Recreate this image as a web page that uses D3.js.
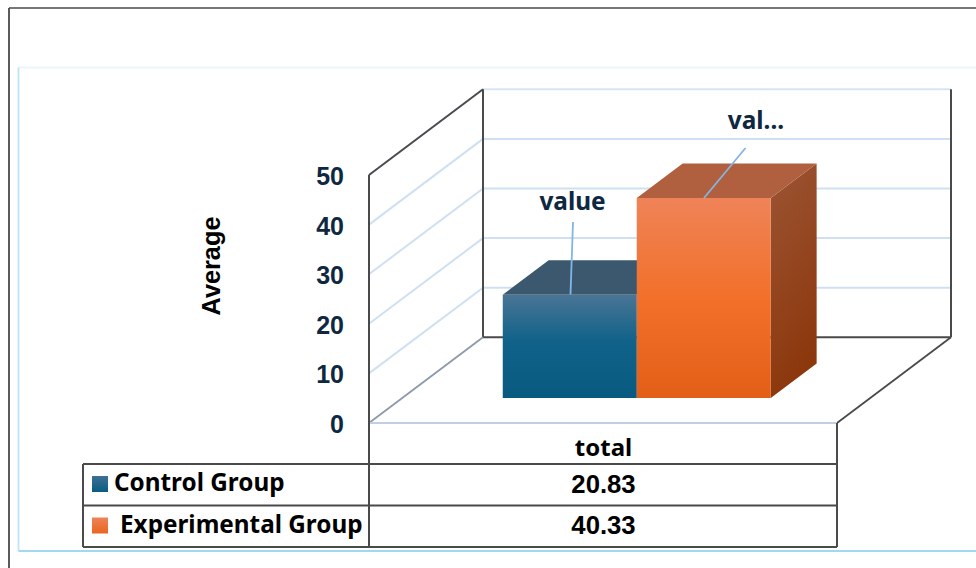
<!DOCTYPE html>
<html><head><meta charset="utf-8">
<script src="https://cdnjs.cloudflare.com/ajax/libs/d3/7.8.5/d3.min.js"></script>
<style>html,body{margin:0;padding:0;background:#fff}svg{display:block}</style>
</head><body><svg id="c" width="976" height="568"></svg>
<script>
const categories = ["Control Group", "Experimental Group"];
const values = [20.83, 40.33];
const columnLabel = "total";
const yTicks = [0, 10, 20, 30, 40, 50];
const valueTexts = ["value", "val..."];
const yTitle = "Average";

const svg = d3.select("#c");
const navy = "#0e2841", dark = "#4a4a4a", grid = "#cfe0f3";
const sans = "'Liberation Sans',Arial,sans-serif", noto = "'Noto Sans',sans-serif";

const defs = svg.append("defs");
function grad(id, stops, x2 = 0, y2 = 1) {
  const g = defs.append("linearGradient").attr("id", id).attr("x1", 0).attr("y1", 0).attr("x2", x2).attr("y2", y2);
  stops.forEach(s => g.append("stop").attr("offset", s[0]).attr("stop-color", s[1]));
}
grad("f0", [[0, "#4a7595"], [.45, "#10628a"], [1, "#085a80"]]);
grad("f1", [[0, "#ef8358"], [.5, "#f2702a"], [1, "#e35f18"]]);
grad("s1", [[0, "#9c5534"], [1, "#8c370c"]], .25, 1);
const topCol = ["#3b586f", "#b0603e"];
const legendFill = ["url(#l0)", "url(#l1)"];
grad("l0", [[0, "#3f7093"], [1, "#0b5c82"]]);
grad("l1", [[0, "#ef8358"], [1, "#e8651f"]]);

// Frames
const line = (x1, y1, x2, y2, c, w) => svg.append("line").attr("x1", x1).attr("y1", y1).attr("x2", x2).attr("y2", y2).attr("stroke", c).attr("stroke-width", w);
line(9, 8, 976, 8, dark, 1.6); line(9, 8, 9, 568, dark, 1.8);
line(18.5, 67.5, 976, 67.5, "#eaf6fc", 1.8);
line(18.5, 67.5, 18.5, 551, "#bfe6f7", 1.8);
line(18.5, 551, 976, 551, "#9fd8ef", 2);

// Projection: scales for front plane and floor depth
const y = d3.scaleLinear().domain([0, 50]).range([423, 175]);
const depth = { x: d3.scaleLinear().domain([0, 1]).range([0, 114]), y: d3.scaleLinear().domain([0, 1]).range([0, -85.7]) };
const P = (px, v, d) => [px + depth.x(d), y(v) + depth.y(d)];
const floorL = 369, floorR = 837;

const poly = (pts, fill) => svg.append("polygon").attr("points", pts.map(p => p.join(",")).join(" ")).attr("fill", fill);
const seg = (a, b, c, w) => line(a[0], a[1], b[0], b[1], c, w);

// Gridlines on walls
yTicks.forEach(t => {
  if (t > 0) seg(P(floorL, t, 0), P(floorL, t, 1), grid, 2);
  if (t > 0 && t < 50) seg(P(floorL, t, 1), P(floorR, t, 1), grid, 2);
});
seg(P(floorL, 50, 1), P(floorR, 50, 1), "#d6e5f6", 2);
// Wall edges
seg(P(floorL, 50, 0), P(floorL, 50, 1), dark, 1.8);
seg(P(floorL, 0, 1), P(floorL, 50, 1), dark, 2);
seg(P(floorR, 0, 1), P(floorR, 50, 1), dark, 2);
seg(P(floorL, 0, 1), P(floorR, 0, 1), dark, 2);
seg(P(floorR, 0, 0), P(floorR, 0, 1), dark, 1.8);
seg(P(floorL, 0, 0), P(floorL, 0, 1), "#8d9aaa", 1.8);
seg(P(floorL, 0, 0), P(floorR, 0, 0), "#c3cfe0", 2.2);

// Bars
const x = d3.scaleBand().domain(categories).range([469.5, 737.5]).padding(0);
const d0 = 25 / 85.7, d1 = 59.5 / 85.7;
categories.forEach((c, i) => {
  const l = x(c), r = l + x.bandwidth(), v = values[i];
  poly([P(r, 0, d0), P(r, 0, d1), P(r, v, d1), P(r, v, d0)], i ? "url(#s1)" : "#2a4f68");
  poly([P(l, v, d0), P(l, v, d1), P(r, v, d1), P(r, v, d0)], topCol[i]);
  poly([P(l, 0, d0), P(r, 0, d0), P(r, v, d0), P(l, v, d0)], `url(#f${i})`);
});

// Leaders and value labels
const leaders = [[[573, 222], [570.5, 294.5]], [[745.5, 148], [704, 198]]];
leaders.forEach(L => seg(L[0], L[1], "#82b6e6", 1.8));
const labelPos = [[572.5, 210], [756, 129]];
valueTexts.forEach((t, i) => svg.append("text").attr("x", labelPos[i][0]).attr("y", labelPos[i][1])
  .attr("text-anchor", "middle").attr("font-family", noto).attr("font-weight", 700).attr("font-size", 24.4).attr("fill", navy).text(t));

// Y axis
const ax = svg.append("g").attr("transform", "translate(344,1.5)").call(d3.axisLeft(y).tickValues(yTicks).tickSize(0).tickPadding(0));
ax.select(".domain").remove();
ax.selectAll("text").attr("font-family", sans).attr("font-weight", 700).attr("font-size", 25).attr("fill", navy);
svg.append("text").attr("transform", "translate(220,266) rotate(-90)").attr("text-anchor", "middle")
  .attr("font-family", sans).attr("font-weight", 700).attr("font-size", 25.3).attr("fill", "#000").text(yTitle);

// Data table
const tableL = 83, rows = [464, 505.5, 547];
line(floorL, 175, floorL, 423, dark, 2);
line(floorL, 423, floorL, 547, dark, 2);
line(floorR, 423, floorR, 547, dark, 2);
line(tableL, 464, tableL, 547, dark, 2);
rows.forEach(r => line(tableL, r, floorR, r, dark, 2));
const colC = 603.5;
svg.append("text").attr("x", colC).attr("y", 456).attr("text-anchor", "middle").attr("font-family", noto).attr("font-weight", 700).attr("font-size", 24).attr("fill", "#000").text(columnLabel);
const nameX = [114, 120];
categories.forEach((c, i) => {
  svg.append("rect").attr("x", 92).attr("y", rows[i] + 12).attr("width", 16).attr("height", 16).attr("fill", legendFill[i]);
  svg.append("text").attr("x", nameX[i]).attr("y", rows[i] + 27).attr("font-family", noto).attr("font-weight", 700).attr("font-size", 24.3).attr("fill", "#000").text(c);
  svg.append("text").attr("x", colC).attr("y", rows[i] + 28.5).attr("text-anchor", "middle").attr("font-family", sans).attr("font-weight", 700).attr("font-size", 25.7).attr("fill", "#000").text(values[i].toFixed(2));
});
</script></body></html>
